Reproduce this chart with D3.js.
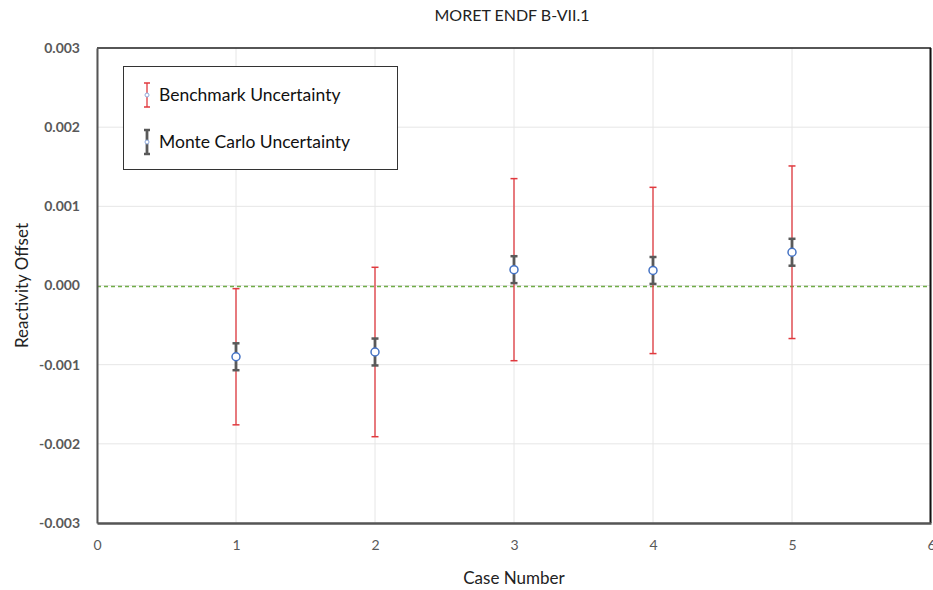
<!DOCTYPE html>
<html>
<head>
<meta charset="utf-8">
<script src="https://cdn.jsdelivr.net/npm/d3@7"></script>
<style>
  body { margin: 0; background: #fff; }
  text { font-family: Lato, "Open Sans", sans-serif; }
</style>
</head>
<body>
<div id="chart"></div>
<script>
/**
 * DATA
 * */
const cases = [1, 2, 3, 4, 5];
const offsets = [-0.00090, -0.00084, 0.00020, 0.00019, 0.00042];
const benchmarkUnc = [0.00086, 0.00107, 0.00115, 0.00105, 0.00109];
const monteCarloUnc = [0.00017, 0.00017, 0.00017, 0.00017, 0.00017];
const yTicks = [-0.003, -0.002, -0.001, 0, 0.001, 0.002, 0.003];
const xTicks = [0, 1, 2, 3, 4, 5, 6];

/**
 * CONSTANTS
 * */
const width = 933,
  height = 590,
  margin = { top: 48, bottom: 67, left: 97, right: 2 };

const svg = d3.select("#chart")
  .append("svg")
  .attr("width", width)
  .attr("height", height);

const x = d3.scaleLinear().domain([0, 6]).range([margin.left, width - margin.right]);
const y = d3.scaleLinear().domain([-0.003, 0.003]).range([height - margin.bottom, margin.top]);

// gridlines
svg.append("g")
  .selectAll("line")
  .data(yTicks)
  .join("line")
  .attr("x1", x(0)).attr("x2", x(6))
  .attr("y1", d => y(d)).attr("y2", d => y(d))
  .attr("stroke", "#e6e6e6").attr("stroke-width", 1);

svg.append("g")
  .selectAll("line")
  .data(xTicks)
  .join("line")
  .attr("x1", d => x(d)).attr("x2", d => x(d))
  .attr("y1", y(-0.003)).attr("y2", y(0.003))
  .attr("stroke", "#e6e6e6").attr("stroke-width", 1);

// zero reference line
svg.append("line")
  .attr("x1", x(0)).attr("x2", x(6))
  .attr("y1", y(0) + 1).attr("y2", y(0) + 1)
  .attr("stroke", "#70ad47")
  .attr("stroke-width", 1.5)
  .attr("stroke-dasharray", "4,3");

// plot frame
svg.append("line")
  .attr("x1", x(0)).attr("x2", x(6))
  .attr("y1", y(0.003)).attr("y2", y(0.003))
  .attr("stroke", "#222").attr("stroke-width", 1.5);
svg.append("line")
  .attr("x1", x(6) - 0.5).attr("x2", x(6) - 0.5)
  .attr("y1", y(0.003)).attr("y2", y(-0.003))
  .attr("stroke", "#111").attr("stroke-width", 2);

// axes
const fmt = d3.format(".3f");
const yAxis = d3.axisLeft(y)
  .tickValues(yTicks)
  .tickSize(0)
  .tickPadding(17)
  .tickFormat(d => fmt(d).replace("\u2212", "-"));
const gy = svg.append("g")
  .attr("transform", `translate(${x(0)},0)`)
  .call(yAxis);
gy.select(".domain").attr("stroke", "#555").attr("stroke-width", 2);
gy.selectAll("text")
  .attr("fill", "#595959")
  .style("font-size", "14px")
  .style("font-weight", "bold");

const xAxis = d3.axisBottom(x)
  .tickValues(xTicks)
  .tickSize(0)
  .tickPadding(17)
  .tickFormat(d3.format("d"));
const gx = svg.append("g")
  .attr("transform", `translate(0,${y(-0.003)})`)
  .call(xAxis);
gx.select(".domain").attr("stroke", "#555").attr("stroke-width", 2.5);
gx.selectAll("text")
  .attr("fill", "#595959")
  .style("font-size", "14px");

// titles
svg.append("text")
  .attr("x", 512).attr("y", 21)
  .attr("text-anchor", "middle")
  .attr("fill", "#222")
  .style("font-size", "16px")
  .text("MORET ENDF B-VII.1");

svg.append("text")
  .attr("transform", `translate(28,${y(0)}) rotate(-90)`)
  .attr("text-anchor", "middle")
  .attr("fill", "#222")
  .style("font-size", "17px")
  .text("Reactivity Offset");

svg.append("text")
  .attr("x", x(3)).attr("y", 584)
  .attr("text-anchor", "middle")
  .attr("fill", "#222")
  .style("font-size", "17px")
  .text("Case Number");

// error bars
const points = cases.map((c, i) => ({
  c, v: offsets[i], b: benchmarkUnc[i], m: monteCarloUnc[i]
}));

function errorBar(g, half, color, w, cap) {
  g.append("line")
    .attr("x1", d => x(d.c)).attr("x2", d => x(d.c))
    .attr("y1", d => y(d.v + half(d))).attr("y2", d => y(d.v - half(d)))
    .attr("stroke", color).attr("stroke-width", w);
  [1, -1].forEach(s => {
    g.append("line")
      .attr("x1", d => x(d.c) - cap).attr("x2", d => x(d.c) + cap)
      .attr("y1", d => y(d.v + s * half(d))).attr("y2", d => y(d.v + s * half(d)))
      .attr("stroke", color).attr("stroke-width", w < 2 ? 1.5 : 2.5);
  });
}

const pt = svg.append("g")
  .selectAll("g")
  .data(points)
  .join("g");

errorBar(pt, d => d.b, "#e0393e", 1.3, 3.5);
errorBar(pt, d => d.m, "#595959", 2.8, 3.5);

pt.append("circle")
  .attr("cx", d => x(d.c))
  .attr("cy", d => y(d.v))
  .attr("r", 4)
  .attr("fill", "#fff")
  .attr("stroke", "#4472c4")
  .attr("stroke-width", 1.5);

// legend
const legend = svg.append("g").attr("transform", "translate(123,66)");
legend.append("rect")
  .attr("x", 0.5).attr("y", 0.5)
  .attr("width", 274).attr("height", 103)
  .attr("fill", "#fff")
  .attr("stroke", "#333").attr("stroke-width", 1);

const legendItems = [
  { label: "Benchmark Uncertainty", color: "#e0393e", w: 1.3, cy: 29 },
  { label: "Monte Carlo Uncertainty", color: "#595959", w: 2.8, cy: 76 }
];
const li = legend.selectAll("g.item")
  .data(legendItems)
  .join("g")
  .attr("class", "item")
  .attr("transform", d => `translate(24,${d.cy})`);
li.append("line")
  .attr("y1", -12).attr("y2", 12)
  .attr("stroke", d => d.color).attr("stroke-width", d => d.w);
li.append("line")
  .attr("x1", -3).attr("x2", 3).attr("y1", -12).attr("y2", -12)
  .attr("stroke", d => d.color).attr("stroke-width", d => d.w < 2 ? 1.5 : 2.5);
li.append("line")
  .attr("x1", -3).attr("x2", 3).attr("y1", 12).attr("y2", 12)
  .attr("stroke", d => d.color).attr("stroke-width", d => d.w < 2 ? 1.5 : 2.5);
li.append("circle")
  .attr("r", 2).attr("fill", "#fff")
  .attr("stroke", "#8faadc").attr("stroke-width", 1);
li.append("text")
  .attr("x", 12).attr("y", 6)
  .attr("fill", "#111")
  .style("font-size", "17.5px")
  .text(d => d.label);
</script>
</body>
</html>
